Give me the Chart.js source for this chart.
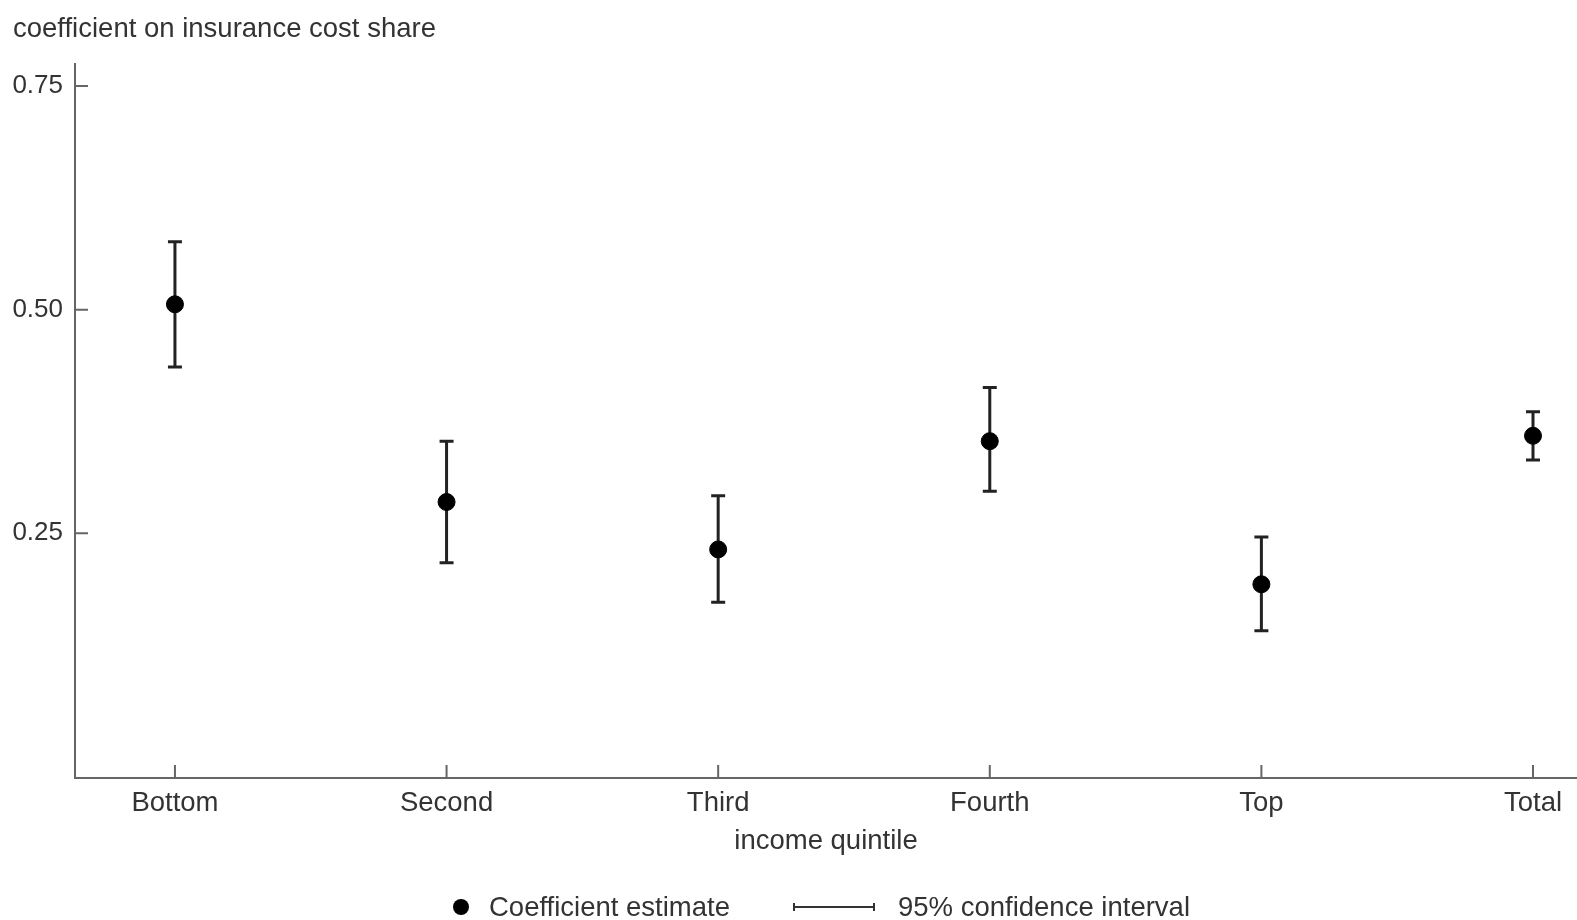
<!DOCTYPE html>
<html>
<head>
<meta charset="utf-8">
<script src="https://cdn.jsdelivr.net/npm/chart.js@4"></script>
<style>
    html, body { margin: 0; background: #fff; overflow: hidden; }
    #wrap { position: relative; width: 1577px; height: 920px; }
    #chart { display: block; }
    #legend {
        position: absolute; left: 453px; top: 891px;
        display: flex; align-items: center;
        font-family: "Liberation Sans", Arial, sans-serif; font-size: 27.5px; color: #333;
    }
    .dot { width: 16px; height: 16px; border-radius: 50%; background: #000; margin-right: 20px; }
    .ci { width: 82px; height: 8px; position: relative; margin-left: 63px; margin-right: 23px; }
    .ci:before { content: ""; position: absolute; left: 0; right: 0; top: 3px; border-top: 2px solid #333; }
    .ci:after { content: ""; position: absolute; left: 0; right: 0; top: 0; height: 8px; border-left: 2px solid #333; border-right: 2px solid #333; }
</style>
</head>
<body>
<div id="wrap">
    <canvas id="chart" width="1577" height="920"></canvas>
    <div id="legend">
        <span class="dot"></span><span>Coefficient estimate</span>
        <span class="ci"></span><span>95% confidence interval</span>
    </div>
</div>
<script>
const categories = ["Bottom", "Second", "Third", "Fourth", "Top", "Total"];
const estimates = [0.506, 0.285, 0.232, 0.353, 0.193, 0.359];
const ciLow = [0.436, 0.217, 0.173, 0.297, 0.141, 0.332];
const ciHigh = [0.576, 0.353, 0.292, 0.413, 0.246, 0.386];
const yTicks = [0.25, 0.50, 0.75];

const font = { family: "'Liberation Sans', Arial, sans-serif", size: 27.5, weight: "normal" };
const tickFont = { family: "'Liberation Sans', Arial, sans-serif", size: 26 };
const textColor = "#333";
const axisColor = "#666";

// confidence intervals + inward tick marks
const ciPlugin = {
    id: "ci",
    beforeDatasetsDraw(chart) {
        const c = chart.ctx;
        const xs = chart.scales.x, ys = chart.scales.y;
        c.save();
        c.strokeStyle = "#222";
        c.lineWidth = 3;
        categories.forEach((cat, i) => {
            const x = xs.getPixelForValue(i);
            const top = ys.getPixelForValue(ciHigh[i]);
            const bot = ys.getPixelForValue(ciLow[i]);
            c.beginPath();
            c.moveTo(x, top); c.lineTo(x, bot);
            c.moveTo(x - 7, top); c.lineTo(x + 7, top);
            c.moveTo(x - 7, bot); c.lineTo(x + 7, bot);
            c.stroke();
        });
        c.restore();
    },
    afterDraw(chart) {
        const c = chart.ctx;
        const area = chart.chartArea;
        const xs = chart.scales.x, ys = chart.scales.y;
        c.save();
        c.strokeStyle = axisColor;
        c.lineWidth = 2;
        c.beginPath();
        yTicks.forEach(v => {
            const y = ys.getPixelForValue(v);
            c.moveTo(area.left, y); c.lineTo(area.left + 13, y);
        });
        categories.forEach((cat, i) => {
            const x = xs.getPixelForValue(i);
            c.moveTo(x, area.bottom); c.lineTo(x, area.bottom - 13);
        });
        c.stroke();
        c.restore();
    }
};

const ctx = document.querySelector("#chart").getContext("2d");
const chart = new Chart(ctx, {
    type: "scatter",
    data: {
        datasets: [{
            label: "Coefficient estimate",
            data: estimates.map((v, i) => ({ x: i, y: v })),
            backgroundColor: "#000",
            borderColor: "#000",
            pointRadius: 8.5,
            pointHoverRadius: 8.5,
        }]
    },
    options: {
        responsive: false,
        animation: false,
        devicePixelRatio: 1,
        layout: {
            autoPadding: false,
            padding: { left: 13, right: 0, top: 0, bottom: 62 }
        },
        plugins: {
            legend: { display: false },
            tooltip: { enabled: false },
            title: {
                display: true,
                text: "coefficient on insurance cost share",
                align: "start",
                color: textColor,
                font: font,
                padding: { top: 13, bottom: 18 }
            }
        },
        scales: {
            x: {
                type: "linear",
                min: -0.368,
                max: 5.162,
                afterBuildTicks: (scale) => { scale.ticks = categories.map((c, i) => ({ value: i })); },
                afterFit: (scale) => { scale.paddingLeft = 0; scale.paddingRight = 0; },
                ticks: {
                    color: textColor,
                    font: font,
                    padding: 9,
                    maxRotation: 0,
                    autoSkip: false,
                    callback: (v) => categories[v]
                },
                grid: { display: false, drawTicks: false },
                border: { display: true, color: axisColor, width: 2 },
                title: {
                    display: true,
                    text: "income quintile",
                    color: textColor,
                    font: font,
                    padding: { top: -4, bottom: 0 }
                }
            },
            y: {
                min: -0.0235,
                max: 0.7746,
                afterBuildTicks: (scale) => { scale.ticks = yTicks.map(v => ({ value: v })); },
                afterFit: (scale) => { scale.width = 62; },
                ticks: {
                    color: textColor,
                    font: tickFont,
                    padding: 12,
                    callback: (v) => v.toFixed(2)
                },
                grid: { display: false, drawTicks: false },
                border: { display: true, color: axisColor, width: 2 }
            }
        }
    },
    plugins: [ciPlugin]
});
</script>
</body>
</html>
